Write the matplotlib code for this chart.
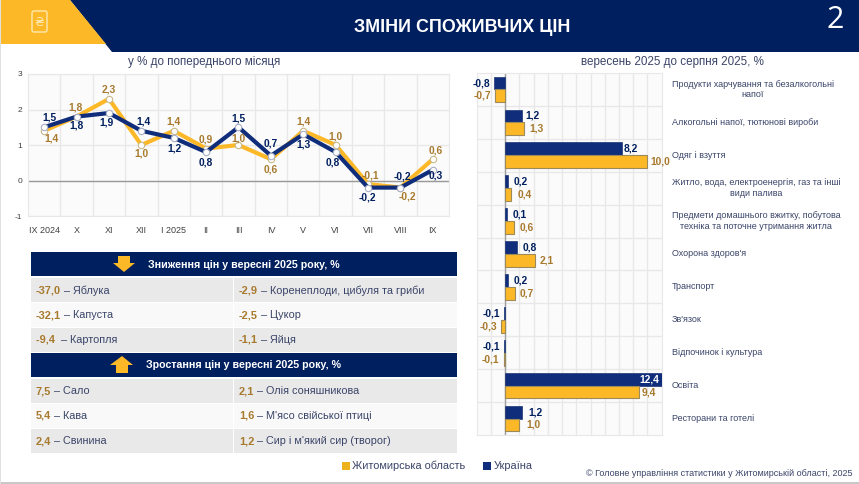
import matplotlib
matplotlib.use("Agg")
import matplotlib.pyplot as plt
from matplotlib.patches import Polygon, Rectangle, FancyBboxPatch

plt.rcParams["font.family"] = ["Liberation Sans", "DejaVu Sans"]

W, H = 859, 484
NAVY = "#001F5F"
LINE_NAVY = "#0F2D7A"
GOLD = "#FDB827"
GOLD_TEXT = "#A87A2E"
TEXT = "#3A4468"
GRID = "#E8E8E8"

# Month-on-month index
months = ["IX 2024", "X", "XI", "XII", "I 2025", "II", "III", "IV", "V", "VI", "VII", "VIII", "IX"]
ukraine_monthly = [1.5, 1.8, 1.9, 1.4, 1.2, 0.8, 1.5, 0.7, 1.3, 0.8, -0.2, -0.2, 0.3]
zhytomyr_monthly = [1.4, 1.8, 2.3, 1.0, 1.4, 0.9, 1.0, 0.6, 1.4, 1.0, -0.1, -0.2, 0.6]

# Label offsets in pixels, one per month
ukraine_offsets = [(5, -10), (0, 9), (-2, 9), (2, -9), (1, 11), (0, 10), (0, -9), (0, -12),
                   (0, 10), (-3, 10), (-1, 10), (2, -11), (3, 6)]
zhytomyr_offsets = [(7, 8), (-1, -9), (0, -9), (0, 8), (0, -9), (0, -9), (0, -7), (0, 10),
                    (0, -9), (0, -9), (2, -9), (7, 9), (3, -9)]

# September 2025 against August 2025, by consumption group
groups = ["Продукти харчування та безалкогольні\nнапої",
          "Алкогольні напої, тютюнові вироби",
          "Одяг і взуття",
          "Житло, вода, електроенергія, газ та інші\nвиди палива",
          "Предмети домашнього вжитку, побутова\nтехніка та поточне утримання житла",
          "Охорона здоров'я",
          "Транспорт",
          "Зв'язок",
          "Відпочинок і культура",
          "Освіта",
          "Ресторани та готелі"]
ukraine_groups = [-0.8, 1.2, 8.2, 0.2, 0.1, 0.8, 0.2, -0.1, -0.1, 12.4, 1.2]
zhytomyr_groups = [-0.7, 1.3, 10.0, 0.4, 0.6, 2.1, 0.7, -0.3, -0.1, 9.4, 1.0]

# Horizontal gap between bar end and its label, in pixels
ukraine_gaps = [4, 3, 2, 6, 6, 6, 6, 4, 4, 3, 6.5]
zhytomyr_gaps = [4, 5.5, 2.5, 7, 6, 5, 5, 4, 5, 3, 6.5]

# Product tables: (value, product)
decreases_left = [("-37,0", "Яблука"), ("-32,1", "Капуста"), ("-9,4 ", "Картопля")]
decreases_right = [("-2,9", "Коренеплоди, цибуля та гриби"), ("-2,5", "Цукор"), ("-1,1", "Яйця")]
increases_left = [("7,5", "Сало"), ("5,4", "Кава"), ("2,4", "Свинина")]
increases_right = [("2,1", "Олія соняшникова"), ("1,6", "М'ясо свійської птиці"),
                   ("1,2", "Сир і м'який сир (творог)")]


def comma(v):
    return f"{v:.1f}".replace(".", ",")


def axes_px(left, top, right, bottom, **kw):
    return fig.add_axes([left / W, 1 - bottom / H, (right - left) / W, (bottom - top) / H], **kw)


fig = plt.figure(figsize=(W / 100, H / 100), dpi=100, facecolor="white")
renderer = fig.canvas.get_renderer()

# Page furniture is laid out in pixel coordinates on a full-figure layer
page = axes_px(0, 0, W, H, zorder=0)
page.set_xlim(0, W)
page.set_ylim(H, 0)
page.axis("off")

page.add_patch(Polygon([(70, 0), (W, 0), (W, 52), (112, 52)], fc=NAVY, ec="none"))
page.add_patch(Polygon([(0, 0), (70, 0), (106, 44), (0, 44)], fc=GOLD, ec="none"))
page.add_patch(FancyBboxPatch((33, 12), 13, 19, boxstyle="round,pad=1,rounding_size=2",
                              fc="none", ec="#FFE9B0", lw=1))
page.text(39, 23, "₴", color="#FFE9B0", fontsize=9, ha="center", va="center",
          family=["DejaVu Sans"])
page.text(462, 27, "ЗМІНИ СПОЖИВЧИХ ЦІН", color="white", fontsize=12.9, fontweight="bold",
          ha="center", va="center")
page.text(835, 20, "2", color="white", fontsize=22, ha="center", va="center", family=["Open Sans"])
page.text(204.5, 62, "у % до попереднього місяця", color=TEXT, fontsize=8.4, ha="center", va="center")
page.text(672.5, 62, "вересень 2025 до серпня 2025, %", color=TEXT, fontsize=8.4, ha="center", va="center")
page.add_patch(Rectangle((0, 482), W, 2, fc="#C8C8C8", ec="none"))
page.add_patch(Rectangle((0, 0), 1, H, fc="#E0E0E0", ec="none"))


def table_block(top, heading, left_rows, right_rows, arrow_up):
    page.add_patch(Rectangle((31, top), 426, 24, fc=NAVY, ec="none"))
    page.text(244, top + 12.5, heading, color="white", fontsize=7.7, fontweight="bold",
              ha="center", va="center")
    if arrow_up:
        shape = [(110, top + 12), (122, top + 3), (133, top + 12), (128, top + 12),
                 (128, top + 20), (116, top + 20), (116, top + 12)]
    else:
        shape = [(113, top + 11), (124, top + 20), (135, top + 11), (130, top + 11),
                 (130, top + 4), (118, top + 4), (118, top + 11)]
    page.add_patch(Polygon(shape, fc=GOLD, ec="none"))
    row_tops = [top + 26, top + 50.5, top + 75.5]
    fills = ["#E9E9E9", "#F9F9F9", "#E9E9E9"]
    for i, y in enumerate(row_tops):
        for x0, x1, rows in ((31, 232.5, left_rows), (234, 457, right_rows)):
            page.add_patch(Rectangle((x0, y), x1 - x0, 24, fc=fills[i], ec="none"))
            value, name = rows[i]
            # Shared baseline, with the product name starting where the value ends
            val = page.text(x0 + 5, y + 15.5, value, color=GOLD_TEXT, fontsize=7.9, fontweight="bold",
                            ha="left", va="baseline")
            end = val.get_window_extent(renderer).x1
            page.text(end + 3, y + 15.5, "– " + name, color=TEXT, fontsize=7.8, ha="left", va="baseline")


table_block(252, "Зниження цін у вересні 2025 року, %", decreases_left, decreases_right, False)
table_block(353, "Зростання цін у вересні 2025 року, %", increases_left, increases_right, True)

page.add_patch(Rectangle((342, 462), 8, 8, fc="#EDB31F", ec="none"))
page.text(352, 466, "Житомирська область", color=TEXT, fontsize=7.9, ha="left", va="center")
page.add_patch(Rectangle((483, 462), 8, 8, fc=LINE_NAVY, ec="none"))
page.text(494, 466, "Україна", color=TEXT, fontsize=7.9, ha="left", va="center")
page.text(853, 473, "© Головне управління статистики у Житомирській області, 2025", color=TEXT,
          fontsize=6.5, ha="right", va="center")

# Monthly line chart
ax = axes_px(28, 74, 449, 216, zorder=1)
positions = list(range(len(months)))
ax.set_xlim(-0.5, len(months) - 0.5)
ax.set_ylim(-1, 3)
ax.set_facecolor("#FBFBFB")
ax.set_xticks([p - 0.5 for p in positions[1:]], minor=True)
ax.set_xticks(positions, months)
ax.set_yticks([-1, 0, 1, 2, 3], ["-1", "0", "1", "2", "3"])
ax.grid(True, which="minor", axis="x", color=GRID, lw=1)
ax.grid(True, which="major", axis="y", color=GRID, lw=1)
ax.set_axisbelow(True)
ax.tick_params(which="both", length=0)
ax.tick_params(axis="x", which="major", labelsize=6.5, labelcolor="#404040", pad=7)
ax.tick_params(axis="y", labelsize=6, labelcolor="#404040", pad=4)
for s in ax.spines.values():
    s.set_color(GRID)
ax.axhline(0, color="#9A9A9A", lw=1, zorder=1.5)
ax.plot(positions, zhytomyr_monthly, color=GOLD, lw=3, marker="o", ms=4.6, mfc="white",
        mec="#C9B98A", mew=0.8, zorder=3, solid_joinstyle="miter")
ax.plot(positions, ukraine_monthly, color=LINE_NAVY, lw=3, marker="o", ms=4.6, mfc="white",
        mec="#A9B0C4", mew=0.8, zorder=4, solid_joinstyle="miter")


def point_labels(values, offsets, color):
    for p, v, (dx, dy) in zip(positions, values, offsets):
        ax.annotate(comma(v), (p, v), xytext=(dx * 0.72, -dy * 0.72), textcoords="offset points",
                    ha="center", va="center", fontsize=7.4, fontweight="bold", color=color, zorder=5)


point_labels(zhytomyr_monthly, zhytomyr_offsets, GOLD_TEXT)
point_labels(ukraine_monthly, ukraine_offsets, NAVY)

# Group bar chart
bx = axes_px(476.7, 73, 661.7, 435, zorder=1)
bx.set_xlim(-2, 11)
bx.set_ylim(len(groups) - 0.5, -0.5)
bx.set_facecolor("#FBFBFB")
bx.set_xticks(range(-1, 11))
bx.set_yticks([i + 0.5 for i in range(len(groups) - 1)])
bx.grid(True, color=GRID, lw=1)
bx.set_axisbelow(True)
bx.tick_params(length=0, labelbottom=False, labelleft=False)
for s in bx.spines.values():
    s.set_color(GRID)
ys = list(range(len(groups)))
bar_h = 0.39
bx.barh([y - bar_h / 2 for y in ys], ukraine_groups, height=bar_h, color=LINE_NAVY,
        edgecolor="#1A3576", lw=0.5, zorder=3)
bx.barh([y + bar_h / 2 for y in ys], zhytomyr_groups, height=bar_h, color=GOLD,
        edgecolor="#9C8A5A", lw=0.8, zorder=3)
bx.axvline(0, color="#A0A0A0", lw=1, zorder=2)


def bar_label(value, y, gap, color):
    limit = bx.get_xlim()[1]
    if value > limit:
        bx.annotate(comma(value), (limit, y), xytext=(-2, 0), textcoords="offset points",
                    ha="right", va="center", color="white", fontsize=7.4, fontweight="bold", zorder=6)
    else:
        sign = 1 if value > 0 else -1
        bx.annotate(comma(value), (value, y), xytext=(sign * gap * 0.72, 0), textcoords="offset points",
                    ha="left" if value > 0 else "right", va="center", color=color, fontsize=7.4,
                    fontweight="bold", zorder=6, annotation_clip=False)


for y, u, z, ug, zg, name in zip(ys, ukraine_groups, zhytomyr_groups, ukraine_gaps, zhytomyr_gaps, groups):
    bar_label(u, y - bar_h / 2, ug, NAVY)
    bar_label(z, y + bar_h / 2, zg, GOLD_TEXT)
    bx.annotate(name, (1, y), xycoords=("axes fraction", "data"), xytext=(7.2, 0),
                textcoords="offset points", ha="left", multialignment="center",
                va="center", color=TEXT, fontsize=6.5, linespacing=1.25, annotation_clip=False)

fig.savefig("out.png", dpi=100)
